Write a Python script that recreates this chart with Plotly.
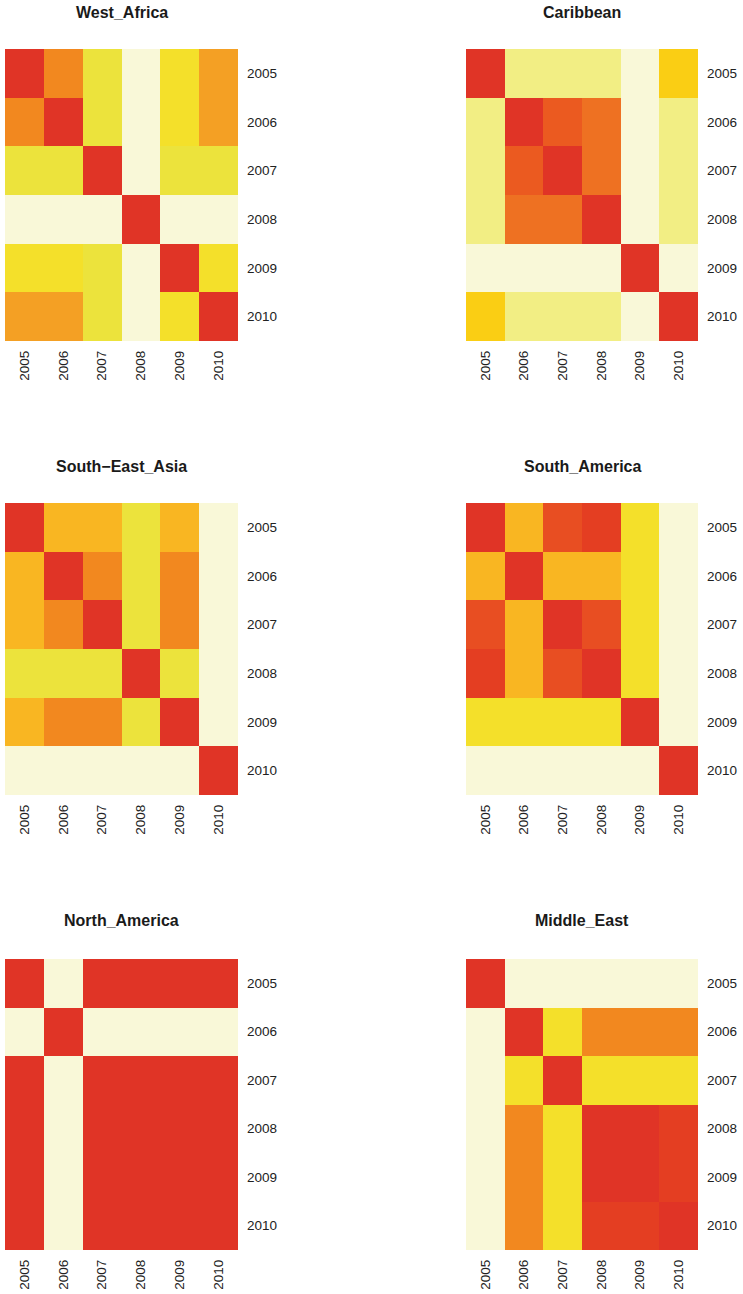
import plotly.graph_objects as go

years = ["2005", "2006", "2007", "2008", "2009", "2010"]

regions = ["West_Africa", "Caribbean", "South\u2212East_Asia",
           "South_America", "North_America", "Middle_East"]

# Pairwise year-to-year similarity per region (rows/cols: 2005..2010)
west_africa = [
    [1.00, 0.76, 0.42, 0.00, 0.50, 0.70],
    [0.76, 1.00, 0.42, 0.00, 0.50, 0.70],
    [0.42, 0.42, 1.00, 0.00, 0.42, 0.42],
    [0.00, 0.00, 0.00, 1.00, 0.00, 0.00],
    [0.50, 0.50, 0.42, 0.00, 1.00, 0.50],
    [0.70, 0.70, 0.42, 0.00, 0.50, 1.00],
]
caribbean = [
    [1.00, 0.30, 0.30, 0.30, 0.00, 0.58],
    [0.30, 1.00, 0.87, 0.82, 0.00, 0.30],
    [0.30, 0.87, 1.00, 0.82, 0.00, 0.30],
    [0.30, 0.82, 0.82, 1.00, 0.00, 0.30],
    [0.00, 0.00, 0.00, 0.00, 1.00, 0.00],
    [0.58, 0.30, 0.30, 0.30, 0.00, 1.00],
]
south_east_asia = [
    [1.00, 0.64, 0.64, 0.42, 0.64, 0.00],
    [0.64, 1.00, 0.76, 0.42, 0.76, 0.00],
    [0.64, 0.76, 1.00, 0.42, 0.76, 0.00],
    [0.42, 0.42, 0.42, 1.00, 0.42, 0.00],
    [0.64, 0.76, 0.76, 0.42, 1.00, 0.00],
    [0.00, 0.00, 0.00, 0.00, 0.00, 1.00],
]
south_america = [
    [1.00, 0.64, 0.91, 0.95, 0.50, 0.00],
    [0.64, 1.00, 0.64, 0.64, 0.50, 0.00],
    [0.91, 0.64, 1.00, 0.91, 0.50, 0.00],
    [0.95, 0.64, 0.91, 1.00, 0.50, 0.00],
    [0.50, 0.50, 0.50, 0.50, 1.00, 0.00],
    [0.00, 0.00, 0.00, 0.00, 0.00, 1.00],
]
north_america = [
    [1.00, 0.00, 1.00, 1.00, 1.00, 1.00],
    [0.00, 1.00, 0.00, 0.00, 0.00, 0.00],
    [1.00, 0.00, 1.00, 1.00, 1.00, 1.00],
    [1.00, 0.00, 1.00, 1.00, 1.00, 1.00],
    [1.00, 0.00, 1.00, 1.00, 1.00, 1.00],
    [1.00, 0.00, 1.00, 1.00, 1.00, 1.00],
]
middle_east = [
    [1.00, 0.00, 0.00, 0.00, 0.00, 0.00],
    [0.00, 1.00, 0.50, 0.76, 0.76, 0.76],
    [0.00, 0.50, 1.00, 0.50, 0.50, 0.50],
    [0.00, 0.76, 0.50, 1.00, 1.00, 0.95],
    [0.00, 0.76, 0.50, 1.00, 1.00, 0.95],
    [0.00, 0.76, 0.50, 0.95, 0.95, 1.00],
]

matrices = [west_africa, caribbean, south_east_asia,
            south_america, north_america, middle_east]

# cream -> yellow -> orange -> red
colorscale = [
    [0.00, "#F9F8D8"],
    [0.30, "#F2EE84"],
    [0.42, "#ECE33C"],
    [0.50, "#F4E02A"],
    [0.58, "#FACE14"],
    [0.64, "#F9B622"],
    [0.70, "#F4A024"],
    [0.76, "#F2881F"],
    [0.82, "#EE7122"],
    [0.87, "#EB5A20"],
    [0.91, "#E84E22"],
    [0.95, "#E43E22"],
    [1.00, "#E03426"],
]

W, H = 743, 1294
col_px = [(5, 238), (466, 698)]
row_px = [(49, 341), (503, 795), (959, 1250)]
title_y_px = [13, 466, 921]

fig = go.Figure()
font_family = "Liberation Sans, Arial, sans-serif"
tick_font = dict(family=font_family, size=13.5, color="#222222")

for i, (name, z) in enumerate(zip(regions, matrices)):
    r, c = divmod(i, 2)
    x0, x1 = col_px[c]
    y0, y1 = row_px[r]
    xa = "xaxis" if i == 0 else f"xaxis{i + 1}"
    ya = "yaxis" if i == 0 else f"yaxis{i + 1}"
    xref = "x" if i == 0 else f"x{i + 1}"
    yref = "y" if i == 0 else f"y{i + 1}"

    fig.add_trace(go.Heatmap(
        z=z, x=years, y=years, xaxis=xref, yaxis=yref,
        colorscale=colorscale, zmin=0, zmax=1, showscale=False,
        hoverongaps=False,
    ))

    fig.update_layout(**{
        xa: dict(domain=[x0 / W, x1 / W], anchor=yref, type="category",
                 side="bottom", tickangle=-90, ticks="", showgrid=False,
                 zeroline=False, showline=False, tickfont=tick_font,
                 ticklabelstandoff=6),
        ya: dict(domain=[1 - y1 / H, 1 - y0 / H], anchor=xref, type="category",
                 side="right", autorange="reversed", ticks="", showgrid=False,
                 zeroline=False, showline=False, tickfont=tick_font,
                 ticklabelstandoff=8),
    })

    fig.add_annotation(
        x=(x0 + x1) / 2 / W, y=1 - title_y_px[r] / H, xref="paper", yref="paper",
        text=f"<b>{name}</b>", showarrow=False, xanchor="center", yanchor="middle",
        font=dict(family=font_family, size=16, color="#1a1a1a"),
    )

fig.update_layout(
    width=W, height=H, margin=dict(l=0, r=0, t=0, b=0),
    paper_bgcolor="white", plot_bgcolor="white", showlegend=False,
)

fig.write_html("out.html")
